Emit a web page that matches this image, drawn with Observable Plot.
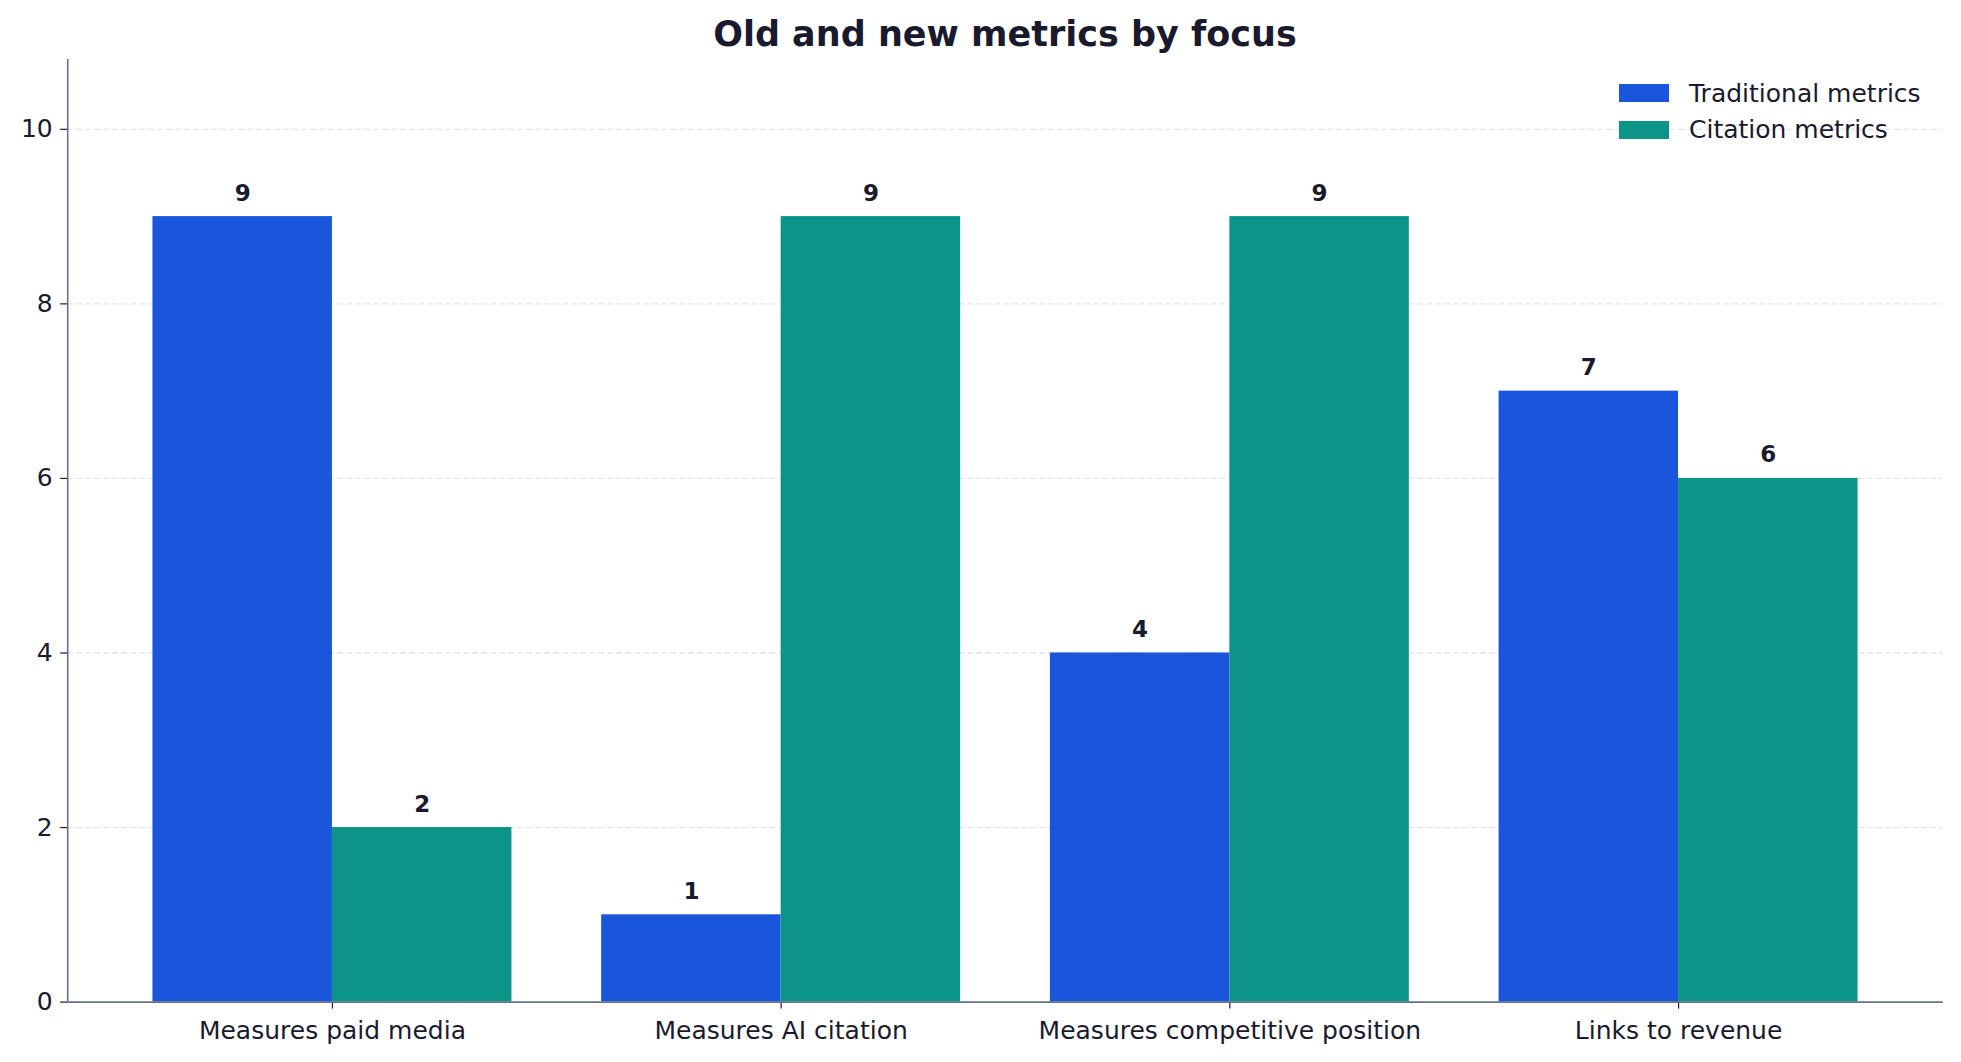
<!DOCTYPE html>
<html><head><meta charset="utf-8">
<script src="https://cdn.jsdelivr.net/npm/d3@7"></script>
<script src="https://cdn.jsdelivr.net/npm/@observablehq/plot@0.6"></script>
<style>
html,body{margin:0;padding:0;background:#fff;}
body{font-family:"DejaVu Sans",sans-serif;width:1961px;height:1062px;position:relative;overflow:hidden;}
#title{box-sizing:border-box;height:50px;padding:17px 18px 0 67px;text-align:center;font-weight:bold;font-size:35px;line-height:35px;color:#1a1a2e;white-space:nowrap;}
#legend{position:absolute;left:1619px;top:75px;font-size:25px;color:#1a1a2e;}
.row{display:flex;align-items:center;height:36.5px;}
.sw{width:50px;height:18px;margin-right:20px;}
svg{display:block;}
</style></head><body>
<div id="title"></div>
<div id="chart"></div>
<div id="legend"></div>
<script>
const titleText = "Old and new metrics by focus";
const categories = ["Measures paid media", "Measures AI citation", "Measures competitive position", "Links to revenue"];
const seriesNames = ["Traditional metrics", "Citation metrics"];
const traditional = [9, 1, 4, 7];
const citation = [2, 9, 9, 6];
const yTicks = [0, 2, 4, 6, 8, 10];
const colors = ["#1a56db", "#0d9488"];

const barW = 0.4;
const seriesValues = [traditional, citation];
const rows = [];
categories.forEach((c, i) => {
  seriesValues.forEach((vals, s) => {
    const x1 = i + (s - 1) * barW;
    rows.push({cat: c, series: seriesNames[s], value: vals[i], x1, x2: x1 + barW, xc: x1 + barW / 2});
  });
});

document.getElementById("title").textContent = titleText;
const leg = document.getElementById("legend");
seriesNames.forEach((n, s) => {
  const r = document.createElement("div"); r.className = "row";
  const sw = document.createElement("div"); sw.className = "sw"; sw.style.background = colors[s];
  const t = document.createElement("span"); t.textContent = n;
  r.appendChild(sw); r.appendChild(t); leg.appendChild(r);
});

const xMin = -0.59, xMax = categories.length - 1 + 0.59;
const yMax = d3.max([...traditional, ...citation]) * 1.2;
const axisColor = "#64748b";
const textColor = "#1a1a2e";

const chart = Plot.plot({
  width: 1961, height: 1012,
  marginTop: 9, marginBottom: 60.4, marginLeft: 67.2, marginRight: 18.2,
  x: {domain: [xMin, xMax], axis: null},
  y: {domain: [0, yMax], axis: null},
  color: {domain: seriesNames, range: colors},
  style: {fontFamily: "DejaVu Sans", background: "white", color: textColor},
  marks: [
    Plot.gridY(yTicks.filter(d => d > 0), {stroke: "#e2e5e9", strokeOpacity: 1, strokeDasharray: "6,3", strokeWidth: 1.3}),
    Plot.rect(rows, {x1: "x1", x2: "x2", y1: 0, y2: "value", fill: "series"}),
    Plot.text(rows, {x: "xc", y: "value", text: d => String(d.value), dy: -16, lineAnchor: "bottom", fontWeight: "bold", fontSize: 23, fill: textColor}),
    Plot.axisY(yTicks, {tickSize: 7, tickPadding: 8, fontSize: 25, color: textColor, label: null, strokeWidth: 1.2, tickFormat: d => String(d)}),
    Plot.axisX(d3.range(categories.length), {tickFormat: i => categories[i], tickSize: 7, tickPadding: 12.5, fontSize: 25, color: textColor, label: null, strokeWidth: 1.2}),
    Plot.ruleY([0], {stroke: axisColor, strokeWidth: 1.6}),
    Plot.ruleX([xMin], {stroke: axisColor, strokeWidth: 1.6})
  ]
});
document.getElementById("chart").appendChild(chart);
</script>
</body></html>
